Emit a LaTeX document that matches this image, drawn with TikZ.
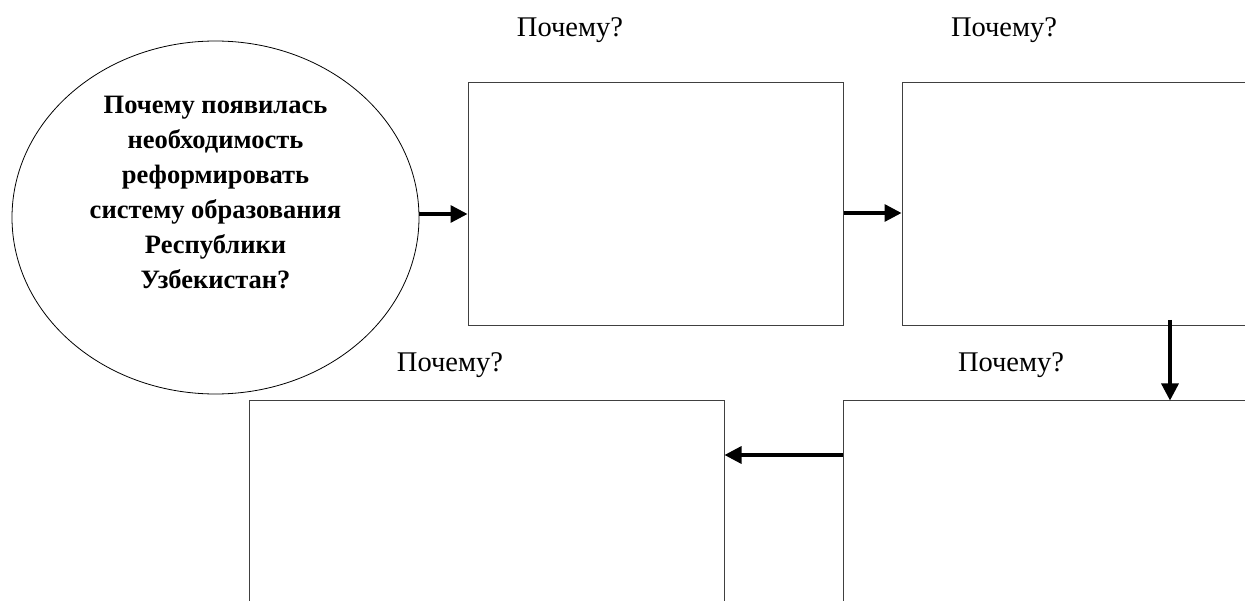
\documentclass[tikz,border=0pt]{standalone}
\usepackage{fontspec}
\setmainfont{Liberation Serif}
\newfontfamily\timesfont{Liberation Serif}
\usetikzlibrary{shapes.geometric,arrows.meta}
\begin{document}
\begin{tikzpicture}[x=1pt,y=-1pt,
  boxstyle/.style={draw=black!75,line width=1pt,rectangle,inner sep=0pt},
  arr/.style={line width=3.3pt,-{Triangle[length=17pt,width=17pt]}},
  lbl/.style={anchor=base,font=\timesfont\fontsize{28.5}{32}\selectfont,inner sep=0pt},
  qstyle/.style={draw=black,line width=0.8pt,ellipse,inner sep=0pt},
  qtext/.style={align=center,inner sep=0pt,
    font=\timesfont\fontsize{26.5}{35}\selectfont\bfseries}]
\clip (0,0) rectangle (1245,601);
\fill[white] (0,0) rectangle (1245,601);
\node[qstyle,minimum width=407pt,minimum height=353pt] (q) at (215.5,217.5) {};
\node[qtext] (qt) at (215.5,192.5)
  {Почему появилась\\необходимость\\реформировать\\систему образования\\Республики\\Узбекистан?};
\node[boxstyle,minimum width=375pt,minimum height=243pt] (b1) at (655.5,204.5) {};
\node[boxstyle,minimum width=398pt,minimum height=243pt] (b2) at (1101,204.5) {};
\node[boxstyle,minimum width=457pt,minimum height=299pt] (b3) at (1071.5,550.5) {};
\node[boxstyle,minimum width=475pt,minimum height=299pt] (b4) at (486.5,550.5) {};
\node[lbl] (l1) at (570,37) {Почему?};
\node[lbl] (l2) at (1004,37) {Почему?};
\node[lbl] (l3) at (450,372) {Почему?};
\node[lbl] (l4) at (1011,372) {Почему?};
\coordinate (a1) at (0,214);
\coordinate (a2) at (0,213);
\coordinate (a3) at (1170,320);
\coordinate (a4) at (0,455);
\draw[arr] (q.east |- a1) -- (b1.west |- a1);
\draw[arr] (b1.east |- a2) -- (b2.west |- a2);
\draw[arr] (a3) -- (a3 |- b3.north);
\draw[arr] (b3.west |- a4) -- (b4.east |- a4);
\end{tikzpicture}
\end{document}
